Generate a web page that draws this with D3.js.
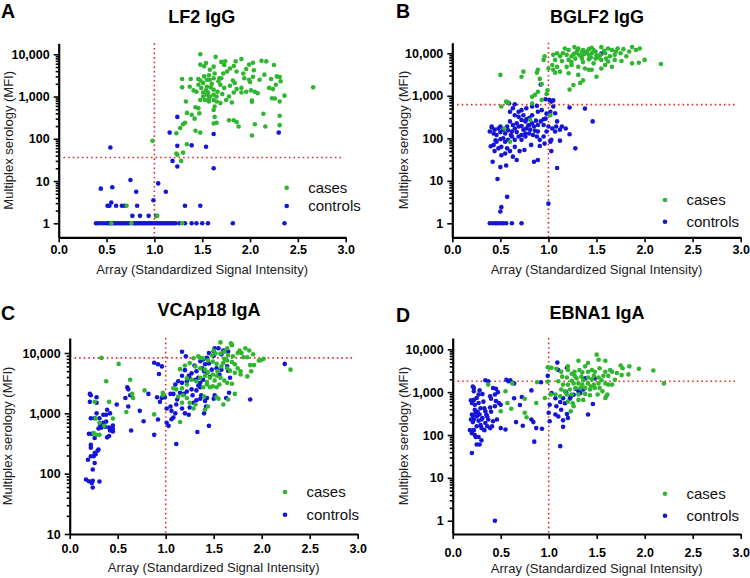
<!DOCTYPE html>
<html>
<head>
<meta charset="utf-8">
<title>Array vs multiplex serology</title>
<script src="https://cdn.jsdelivr.net/npm/d3@7"></script>
<style>
  body { margin: 0; background: #fff; }
  text { font-family: "Liberation Sans", Arial, sans-serif; }
</style>
</head>
<body>
<svg id="chart" width="750" height="578"></svg>
<script>
// x tick labels (shared by all panels)
var xTicks = [0, 0.5, 1, 1.5, 2, 2.5, 3];
var seriesNames = ["cases", "controls"];

// LF2 IgG  [array, MFI]
var lf2Cut = 36;
var lf2Cases = [[1.48,10000],[1.64,8700],[1.91,7700],[1.70,6600],[1.54,6200],[1.74,6800],[1.48,5700],[1.52,5200],[1.85,6800],[1.99,5700],[2.12,7000],[2.17,6800],[2.25,5600],[2.03,6300],[1.96,4500],[2.04,4200],[2.15,3300],[2.28,3000],[2.31,2900],[2.22,2600],[2.27,1900],[2.20,1600],[2.24,1500],[2.32,2300],[2.36,1050],[2.23,910],[2.26,900],[2.31,760],[2.14,390],[2.31,350],[2.16,195],[2.31,210],[2.05,220],[2.02,120],[2.02,750],[2.02,800],[2.05,1300],[2.01,1400],[1.96,1300],[1.91,1600],[2.00,2200],[1.99,2500],[2.03,2950],[1.82,2400],[1.84,2100],[1.79,1800],[1.86,1500],[1.83,1250],[1.78,1000],[1.75,830],[1.81,720],[1.73,1600],[1.69,1900],[1.67,2300],[1.68,2700],[1.72,3500],[1.76,3900],[1.79,4600],[1.83,5300],[1.86,3900],[1.93,3500],[1.62,5100],[1.58,4300],[1.63,3500],[1.62,2700],[1.58,2500],[1.55,2500],[1.51,2100],[1.48,2400],[1.46,1900],[1.49,1600],[1.55,1700],[1.59,1650],[1.62,1450],[1.54,1400],[1.51,1250],[1.55,1100],[1.58,1000],[1.62,1100],[1.65,1000],[1.51,1000],[1.48,830],[1.53,830],[1.57,760],[1.62,830],[1.65,760],[1.69,700],[1.63,580],[1.62,480],[1.63,330],[1.65,240],[1.62,230],[1.57,900],[1.44,1300],[1.41,1400],[1.37,1700],[1.38,2600],[1.46,2600],[1.29,2600],[1.29,1650],[1.33,760],[1.34,410],[1.39,370],[1.42,300],[1.47,400],[1.46,530],[1.43,560],[1.48,140],[1.43,155],[1.32,240],[1.27,180],[1.23,135],[1.30,220],[1.34,74],[1.23,45],[1.30,47],[1.28,30],[1.24,42],[0.98,90],[1.78,275],[1.83,275],[1.86,250],[1.88,195],[2.66,1650],[1.73,5600],[1.70,2700],[1.60,2000],[1.56,1250],[1.66,1300],[1.71,1150],[1.52,3000],[1.57,3200],[1.91,1250],[1.94,2700],[2.08,1200],[2.10,2500],[0.71,2.6],[1.03,1.5],[0.55,1],[0.76,1],[1.29,1]];
var lf2Controls = [[0.54,62],[1.24,330],[1.16,140],[1.62,130],[1.24,68],[1.39,70],[1.54,65],[1.19,30],[1.24,22],[1.62,20],[2.30,140],[1.04,8.8],[0.75,10.6],[0.44,6.6],[0.56,7.1],[0.81,5.6],[1.12,5.6],[0.99,3.5],[0.55,3.1],[0.51,2.6],[0.53,2.6],[0.60,2.6],[0.66,2.6],[0.69,2.6],[0.82,2.6],[1.32,2.6],[1.48,2.6],[0.77,1.5],[0.85,1.5],[0.94,1.5],[1.02,1.5],[0.39,1],[0.41,1],[0.44,1],[0.47,1],[0.50,1],[0.52,1],[0.54,1],[0.56,1],[0.58,1],[0.60,1],[0.62,1],[0.64,1],[0.66,1],[0.68,1],[0.70,1],[0.72,1],[0.74,1],[0.78,1],[0.80,1],[0.82,1],[0.84,1],[0.86,1],[0.88,1],[0.90,1],[0.92,1],[0.94,1],[0.96,1],[0.98,1],[1.00,1],[1.02,1],[1.04,1],[1.06,1],[1.08,1],[1.10,1],[1.12,1],[1.14,1],[1.16,1],[1.18,1],[1.20,1],[1.22,1],[1.26,1],[1.32,1],[1.39,1],[1.44,1],[1.50,1],[1.56,1],[1.82,1],[2.36,1]];

// BGLF2 IgG
var bglf2Cut = 620;
var bglf2Cases = [[1.17,13000],[1.21,12000],[1.27,14000],[1.31,13000],[1.36,12000],[1.42,12500],[1.47,12000],[1.55,14000],[1.62,13000],[1.66,12000],[1.72,13000],[1.78,12500],[1.87,14000],[1.91,12000],[1.95,13000],[2.00,7000],[1.94,6000],[1.87,5800],[2.17,5600],[1.81,8500],[1.75,10000],[1.69,9200],[1.64,8500],[1.59,10000],[1.54,9200],[1.49,11000],[1.45,10000],[1.42,9200],[1.38,10000],[1.35,11000],[1.32,9200],[1.28,10000],[1.24,8500],[1.19,9200],[1.15,10000],[1.12,8500],[1.09,10000],[1.05,9200],[0.96,8500],[0.95,7000],[1.07,7000],[1.14,6600],[1.21,7000],[1.28,7500],[1.35,7500],[1.42,7200],[1.49,7500],[1.55,7000],[1.62,6400],[1.69,7000],[1.76,6600],[1.47,5800],[1.59,5300],[1.66,4800],[1.55,4400],[1.45,4100],[1.38,4400],[1.31,4800],[1.24,5300],[1.19,4800],[1.09,4800],[1.05,4100],[1.12,3700],[1.21,3400],[1.31,3100],[1.36,2300],[1.33,2000],[1.26,1800],[1.22,1400],[1.50,2800],[1.42,4100],[1.24,6200],[1.36,6200],[1.07,3500],[0.89,4100],[0.88,3500],[0.91,2500],[0.93,1900],[0.89,1250],[0.86,1050],[0.83,950],[0.99,1350],[0.98,1100],[0.93,800],[0.83,660],[0.74,3700],[0.72,2800],[0.50,3100],[0.51,560],[0.56,730],[0.58,690],[0.54,170],[0.81,270],[0.60,83],[1.02,350],[1.00,4400],[1.04,5300],[1.30,11500],[1.40,11000],[1.44,8000],[1.52,8000],[1.58,11500],[1.70,11000],[1.84,11000],[1.26,9500],[1.34,8500],[1.45,13500],[1.60,7500],[1.37,9500],[1.50,9000]];
var bglf2Controls = [[0.57,700],[0.59,670],[0.65,630],[0.63,510],[0.60,420],[0.65,350],[0.72,460],[0.77,510],[0.83,560],[0.88,580],[0.89,420],[0.93,460],[0.97,830],[1.01,800],[1.03,730],[1.05,560],[1.02,420],[0.98,380],[0.95,280],[0.92,250],[0.87,260],[0.83,225],[0.80,205],[0.76,250],[0.72,270],[0.69,320],[0.67,225],[0.63,205],[0.60,250],[0.57,190],[0.53,160],[0.50,190],[0.44,160],[0.41,190],[0.39,145],[0.43,130],[0.46,120],[0.50,140],[0.55,130],[0.58,155],[0.62,145],[0.65,170],[0.69,190],[0.72,195],[0.74,160],[0.77,170],[0.81,160],[0.85,190],[0.89,205],[0.95,205],[1.00,190],[1.04,170],[1.08,190],[1.14,190],[1.12,160],[1.07,145],[1.03,92],[0.91,92],[0.88,110],[0.84,120],[0.80,130],[0.76,110],[0.72,92],[0.69,110],[0.65,92],[0.62,110],[0.58,92],[0.55,83],[0.53,100],[0.50,95],[0.46,83],[0.43,70],[0.40,65],[0.44,50],[0.48,58],[0.51,63],[0.57,58],[0.60,50],[0.65,63],[0.70,50],[0.75,53],[0.82,70],[0.91,66],[0.96,75],[1.02,83],[0.98,145],[1.09,250],[1.18,170],[1.12,88],[1.03,50],[0.85,28],[1.09,20],[0.42,28],[0.50,21],[0.56,23],[0.47,11],[0.57,4.2],[0.51,2.4],[0.50,1.9],[1.00,2.9],[0.39,1],[0.42,1],[0.45,1],[0.47,1],[0.50,1],[0.53,1],[0.56,1],[0.62,1],[0.72,1],[1.22,530],[1.38,500],[1.46,250],[1.28,58],[1.22,125],[0.92,1850],[0.89,31],[0.63,37],[0.67,31],[0.51,40],[0.55,44],[0.83,350],[0.80,300],[0.69,420],[0.74,350],[0.77,280],[0.97,290],[0.89,145],[0.95,110],[1.07,390],[1.05,780],[0.76,130],[0.45,90],[0.72,120],[0.41,180],[0.48,170],[0.61,120],[0.67,140],[0.79,200],[0.86,150],[1.55,9800]];

// VCAp18 IgA
var vcaCut = 8300;
var vcaCases = [[0.33,8300],[0.51,6600],[0.38,3400],[0.63,3600],[0.65,2100],[0.66,1800],[0.59,1050],[0.45,820],[0.41,1550],[0.26,1550],[0.28,440],[0.31,440],[0.25,470],[0.31,700],[0.36,620],[0.27,820],[0.78,2400],[0.88,960],[0.97,2200],[0.97,2000],[1.57,15000],[1.68,14500],[1.69,13500],[1.83,12000],[1.87,11000],[1.77,11000],[1.79,10000],[1.75,10000],[1.91,9500],[1.50,11000],[1.52,9800],[1.48,9200],[1.57,9800],[1.61,10500],[1.65,9200],[1.70,8800],[1.81,8500],[1.85,8500],[1.97,7500],[1.92,6300],[1.61,8000],[1.64,7500],[1.69,7100],[1.72,6500],[1.75,5600],[1.78,5000],[1.78,4400],[1.85,4100],[1.89,5000],[1.72,4700],[1.67,5100],[1.64,5600],[1.58,6000],[1.53,6600],[1.49,7200],[1.44,7600],[1.39,8200],[1.34,8800],[1.29,8200],[1.20,6200],[1.15,5400],[1.31,6000],[1.36,5600],[1.41,5300],[1.44,4800],[1.49,4400],[1.53,4200],[1.57,3900],[1.61,3500],[1.64,3200],[1.56,3000],[1.51,3500],[1.46,3900],[1.41,4200],[1.36,3900],[1.32,3400],[1.27,3600],[1.22,3800],[1.43,3000],[1.39,2700],[1.46,2700],[1.49,2800],[1.53,2700],[1.43,3300],[1.22,3000],[1.17,2600],[1.11,2500],[1.08,2600],[1.13,1900],[1.18,2000],[1.22,1800],[1.25,1500],[1.31,1400],[1.29,1200],[1.17,1500],[1.15,720],[1.44,1300],[1.41,1150],[1.53,1850],[1.55,1750],[1.60,1400],[1.65,1700],[1.72,2100],[1.69,3100],[1.40,1900],[1.25,6800],[1.64,12000],[2.30,5300],[1.99,7600],[1.88,6300],[2.02,8000],[1.36,8300],[1.60,6800],[1.54,5000]];
var vcaControls = [[0.21,2100],[0.22,2000],[0.21,1550],[0.28,1850],[0.28,1500],[0.22,830],[0.26,830],[0.28,1000],[0.31,830],[0.38,950],[0.38,730],[0.39,1150],[0.35,700],[0.41,580],[0.42,520],[0.45,550],[0.45,630],[0.39,400],[0.41,420],[0.32,630],[0.33,580],[0.37,600],[0.20,460],[0.23,460],[0.26,390],[0.22,300],[0.22,270],[0.30,250],[0.29,240],[0.26,220],[0.25,195],[0.22,195],[0.27,210],[0.19,170],[0.26,150],[0.24,117],[0.17,80],[0.20,75],[0.24,76],[0.23,70],[0.31,74],[0.24,59],[0.49,1400],[0.42,1000],[0.35,950],[0.30,560],[0.45,500],[0.60,2700],[0.61,2500],[0.63,2000],[0.58,1800],[0.61,1300],[0.73,1100],[0.77,740],[0.64,520],[0.82,2100],[0.88,6900],[0.93,4500],[0.91,1850],[0.88,440],[0.92,790],[0.94,1550],[0.96,1800],[0.99,1850],[0.96,6000],[0.92,6500],[1.17,10500],[1.21,8800],[1.43,8300],[1.45,10000],[1.50,10700],[1.51,12000],[1.55,12000],[1.60,11000],[1.65,10600],[1.39,7800],[1.36,7300],[1.41,6500],[1.45,6700],[1.38,5600],[1.32,5000],[1.27,4600],[1.24,4200],[1.20,5200],[1.17,4200],[1.13,3400],[1.10,3000],[1.17,3200],[1.22,3400],[1.25,3800],[1.31,3600],[1.34,3900],[1.36,3200],[1.39,3600],[1.43,4700],[1.48,5300],[1.53,5600],[1.58,5300],[1.64,6000],[1.65,5100],[1.67,3900],[1.36,2700],[1.32,2400],[1.27,2500],[1.22,2300],[1.19,2100],[1.15,2200],[1.08,2100],[1.05,2100],[1.05,1300],[1.01,1200],[1.06,1100],[1.10,1000],[1.08,850],[1.06,800],[1.01,700],[1.03,620],[1.11,1400],[1.17,1200],[1.20,1000],[1.24,950],[1.25,1250],[1.29,1500],[1.32,1650],[1.36,1750],[1.37,2000],[1.41,1600],[1.42,1300],[1.40,1000],[1.43,1800],[1.34,2900],[1.50,1750],[1.51,2000],[1.63,1800],[1.66,2200],[1.88,1700],[1.45,620],[1.33,490],[1.11,310],[2.24,6600],[1.30,6200],[1.40,5000],[1.46,4000],[1.56,4400],[1.28,2000],[1.12,1700],[1.50,9000],[1.58,9500]];

// EBNA1 IgA
var ebnaCut = 1800;
var ebnaCases = [[1.50,7500],[1.52,5700],[1.59,5400],[1.31,5400],[1.41,4800],[1.38,4000],[1.20,4000],[0.99,3800],[1.01,3700],[1.08,3500],[1.13,3000],[1.20,3300],[1.24,2700],[1.27,3000],[1.32,3300],[1.35,2900],[1.41,3000],[1.45,3300],[1.48,3000],[1.53,3600],[1.59,3000],[1.64,3300],[1.66,3000],[1.75,4200],[1.77,3600],[1.84,4000],[1.94,3500],[2.09,3200],[1.83,2600],[1.76,2500],[1.71,2800],[1.62,2400],[1.57,2400],[1.52,2200],[1.47,2400],[1.41,2200],[1.34,2300],[1.29,2100],[1.24,1850],[1.19,2200],[1.14,2300],[1.10,1800],[1.15,1500],[1.20,1500],[1.26,1600],[1.31,1600],[1.35,1500],[1.41,1600],[1.47,1500],[1.52,1600],[1.59,1600],[1.62,1500],[1.69,1950],[1.33,1250],[1.38,1250],[1.43,1150],[1.48,1250],[1.53,1250],[1.28,1250],[1.22,1150],[1.17,1050],[1.13,1150],[1.07,880],[1.12,800],[1.19,880],[1.24,880],[1.31,880],[1.38,910],[1.43,850],[1.51,880],[1.61,880],[1.59,730],[1.31,660],[1.36,660],[1.25,550],[1.26,470],[1.20,600],[1.23,360],[2.20,1600],[1.66,1500],[0.37,1500],[0.55,1050],[0.50,360],[0.61,410],[0.57,560],[0.75,330],[0.77,260],[0.75,700],[0.87,560],[0.88,1700],[0.99,1750],[1.02,880],[0.96,730],[1.03,3700],[1.45,2000],[1.36,1900],[1.55,1900],[1.27,2400],[1.44,1350],[1.56,1050],[1.60,800],[0.62,1600]];
var ebnaControls = [[0.22,1250],[0.21,1350],[0.22,1050],[0.34,1900],[0.37,1800],[0.42,1250],[0.44,880],[0.47,1000],[0.39,800],[0.31,900],[0.27,880],[0.25,730],[0.22,660],[0.20,560],[0.23,510],[0.27,560],[0.32,600],[0.23,390],[0.20,300],[0.22,230],[0.25,270],[0.28,300],[0.34,360],[0.39,440],[0.44,470],[0.48,560],[0.50,510],[0.27,215],[0.30,230],[0.34,190],[0.37,230],[0.42,210],[0.46,230],[0.41,160],[0.39,145],[0.30,145],[0.25,160],[0.22,130],[0.18,130],[0.20,110],[0.23,100],[0.27,90],[0.30,75],[0.25,60],[0.20,38],[0.28,60],[0.24,330],[0.29,420],[0.31,250],[0.21,200],[0.35,300],[0.19,230],[0.21,280],[0.26,350],[0.33,420],[0.36,270],[0.40,350],[0.45,620],[0.29,170],[0.33,130],[0.24,90],[0.36,160],[0.19,650],[0.28,1100],[0.40,700],[0.45,1200],[0.50,145],[0.55,135],[0.64,1600],[0.60,1900],[0.56,1950],[0.58,1800],[0.64,720],[0.72,770],[0.70,500],[0.66,200],[0.73,165],[0.82,230],[0.84,200],[0.82,1100],[0.85,70],[0.87,145],[0.93,140],[0.92,1700],[0.99,2400],[1.01,510],[1.00,330],[1.01,210],[1.10,3300],[1.09,4900],[1.03,950],[1.07,720],[1.08,470],[1.07,300],[1.10,270],[1.12,590],[1.15,720],[1.17,550],[1.13,390],[1.19,310],[1.20,250],[1.15,220],[1.15,155],[1.12,55],[1.19,3700],[1.26,870],[1.31,1050],[1.36,1150],[1.38,2100],[1.46,530],[1.41,300],[1.48,2100],[1.22,700],[1.18,1000],[1.23,780],[1.28,1200],[1.33,950],[0.44,1]];

var green = "#2fb62f";
var blue = "#1515d8";
var red = "#e0302c";

// panel layout (pixels)
var panels = [
  { letter: "A", title: "LF2 IgG", cases: lf2Cases, controls: lf2Controls, cut: lf2Cut,
    left: 58.7, right: 345.7, top: 43.3, bottom: 237.3, yLo: 0.466, yHi: 18200, yTicks: [1, 10, 100, 1000, 10000],
    letterX: 1, letterY: 18, titleX: 201.7, titleY: 23, yTitleX: 8.5, xLabY: 254, xTitleY: 274,
    legX: 286.7, legY: [187.7, 206] },
  { letter: "B", title: "BGLF2 IgG", cases: bglf2Cases, controls: bglf2Controls, cut: bglf2Cut,
    left: 452.3, right: 740.7, top: 42.7, bottom: 237.3, yLo: 0.469, yHi: 17750, yTicks: [1, 10, 100, 1000, 10000],
    letterX: 396, letterY: 18, titleX: 597, titleY: 23, yTitleX: 403.3, xLabY: 254, xTitleY: 274,
    legX: 665, legY: [200, 221.7] },
  { letter: "C", title: "VCAp18 IgA", cases: vcaCases, controls: vcaControls, cut: vcaCut,
    left: 69.7, right: 357.7, top: 338, bottom: 534, yLo: 10, yHi: 17740, yTicks: [10, 100, 1000, 10000],
    letterX: 1, letterY: 319.5, titleX: 209, titleY: 316, yTitleX: 7.5, xLabY: 553, xTitleY: 571.5,
    legX: 285, legY: [492, 514.7] },
  { letter: "D", title: "EBNA1 IgA", cases: ebnaCases, controls: ebnaControls, cut: ebnaCut,
    left: 452.7, right: 740.7, top: 338, bottom: 534, yLo: 0.49, yHi: 18360, yTicks: [1, 10, 100, 1000, 10000],
    letterX: 396, letterY: 322, titleX: 597, titleY: 319, yTitleX: 403, xLabY: 557, xTitleY: 573,
    legX: 665, legY: [493.7, 515.7] }
];

var svg = d3.select("#chart");

panels.forEach(function(p) {
  var x = d3.scaleLinear().domain([0, 3]).range([p.left, p.right]);
  var y = d3.scaleLog().domain([p.yLo, p.yHi]).range([p.bottom, p.top]);
  var g = svg.append("g");

  // cut-off lines
  g.append("line")
    .attr("x1", x(1)).attr("x2", x(1))
    .attr("y1", p.top).attr("y2", p.bottom)
    .attr("stroke", red).attr("stroke-width", 1.6).attr("stroke-dasharray", "1.6,3");
  g.append("line")
    .attr("x1", x(0.05)).attr("x2", x(2.96))
    .attr("y1", y(p.cut)).attr("y2", y(p.cut))
    .attr("stroke", red).attr("stroke-width", 1.6).attr("stroke-dasharray", "1.6,3");

  // points
  g.append("g").selectAll("circle")
    .data(p.controls)
    .join("circle")
    .attr("cx", function(d) { return x(d[0]); })
    .attr("cy", function(d) { return y(d[1]); })
    .attr("r", 2.3)
    .attr("fill", blue);
  g.append("g").selectAll("circle")
    .data(p.cases)
    .join("circle")
    .attr("cx", function(d) { return x(d[0]); })
    .attr("cy", function(d) { return y(d[1]); })
    .attr("r", 2.3)
    .attr("fill", green);

  // axes
  var xAxis = g.append("g")
    .attr("transform", "translate(0," + p.bottom + ")")
    .call(d3.axisBottom(x).tickValues(xTicks).tickFormat(d3.format(".1f"))
      .tickSize(5).tickSizeOuter(0).tickPadding(4));
  xAxis.selectAll("text").attr("y", null).attr("dy", null)
    .attr("transform", "translate(0," + (p.xLabY - p.bottom) + ")");

  var minor = [];
  p.yTicks.forEach(function(t) {
    for (var k = 2; k <= 9; k++) if (t * k < p.yHi) minor.push(t * k);
  });
  g.append("g")
    .attr("transform", "translate(" + p.left + ",0)")
    .call(d3.axisLeft(y).tickValues(minor).tickFormat("").tickSize(3).tickSizeOuter(0))
    .select(".domain").remove();
  var yAxis = g.append("g")
    .attr("transform", "translate(" + p.left + ",0)")
    .call(d3.axisLeft(y).tickValues(p.yTicks).tickFormat(d3.format(","))
      .tickSize(5).tickSizeOuter(0).tickPadding(4));

  g.selectAll(".domain").attr("stroke", "#000").attr("stroke-width", 2.2);
  g.selectAll(".tick line").attr("stroke", "#000").attr("stroke-width", 1.6);
  g.selectAll(".tick text")
    .attr("fill", "#000")
    .style("font-family", "'Liberation Sans', Arial, sans-serif")
    .style("font-size", "12.5px")
    .style("font-weight", "bold");

  // titles
  g.append("text")
    .attr("x", p.letterX).attr("y", p.letterY)
    .style("font-size", "19.5px").style("font-weight", "bold")
    .text(p.letter);
  g.append("text")
    .attr("x", p.titleX).attr("y", p.titleY)
    .attr("text-anchor", "middle")
    .style("font-size", "18px").style("font-weight", "bold")
    .text(p.title);
  g.append("text")
    .attr("x", (p.left + p.right) / 2).attr("y", p.xTitleY)
    .attr("text-anchor", "middle")
    .attr("fill", "#222")
    .style("font-size", "13px")
    .text("Array (Standardized Signal Intensity)");
  g.append("text")
    .attr("transform", "translate(" + (p.yTitleX + 4.5) + "," + ((p.top + p.bottom) / 2) + ") rotate(-90)")
    .attr("text-anchor", "middle")
    .attr("fill", "#222")
    .style("font-size", "13px")
    .text("Multiplex serology (MFI)");

  // legend
  var cols = [green, blue];
  seriesNames.forEach(function(name, i) {
    g.append("circle")
      .attr("cx", p.legX).attr("cy", p.legY[i]).attr("r", 2.3)
      .attr("fill", cols[i]);
    g.append("text")
      .attr("x", p.legX + 21.5).attr("y", p.legY[i] + 5)
      .attr("fill", "#111")
      .style("font-size", "15px")
      .text(name);
  });
});
</script>
</body>
</html>
